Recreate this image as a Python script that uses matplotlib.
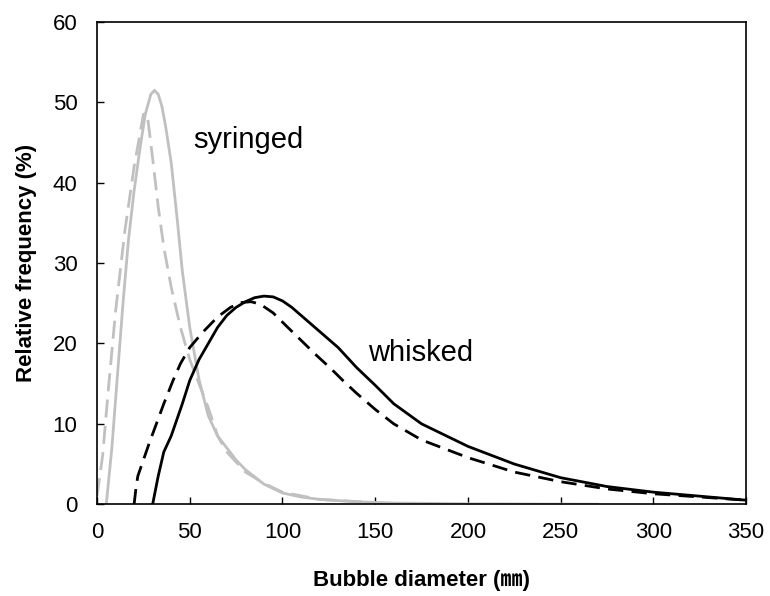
import matplotlib.pyplot as plt

plt.rcParams['font.family'] = ['Liberation Sans', 'Noto Sans CJK JP', 'DejaVu Sans']

# syringed, measured (solid grey)
syr_x = [5, 8, 11, 14, 17, 20, 23, 26, 29, 31, 33, 35, 37, 40, 43, 46, 50, 55, 60, 65,
         70, 75, 80, 90, 100, 110, 120, 140, 160, 200, 270]
syr_y = [0, 7, 16, 25, 33, 39, 44, 48.5, 51, 51.5, 51, 49.5, 47, 42.5, 36, 29, 22, 15.5, 11, 8.5,
         7, 5.5, 4.3, 2.5, 1.4, 0.9, 0.6, 0.3, 0.15, 0.05, 0]

# syringed, fit (dashed grey)
syr_fit_x = [0, 3, 6, 10, 15, 20, 25, 27, 30, 33, 36, 40, 45, 50, 55, 60, 65, 70, 80, 90, 100, 120, 150]
syr_fit_y = [1, 6, 14, 24, 34, 42, 48.5, 48.7, 43, 37, 32, 27, 22, 18, 15, 12, 8.5, 6.5, 4, 2.6, 1.5, 0.6, 0.2]

# whisked, measured (solid black)
wh_x = [30, 33, 36, 40, 43, 46, 50, 55, 60, 65, 70, 75, 80, 85, 90, 95, 100, 105, 110, 115,
        120, 130, 140, 150, 160, 175, 200, 225, 250, 275, 300, 325, 350]
wh_y = [0, 3.5, 6.5, 8.5, 10.5, 12.5, 15.4, 18, 20, 22, 23.5, 24.5, 25.2, 25.7, 25.9, 25.8, 25.3, 24.5, 23.5, 22.5,
        21.5, 19.5, 17, 14.8, 12.5, 10, 7.2, 5, 3.3, 2.2, 1.5, 1.0, 0.5]

# whisked, fit (dashed black)
wh_fit_x = [20, 21, 22, 25, 28, 32, 36, 41, 45, 50, 57, 65, 72, 78, 83, 88, 95, 102, 110, 118,
            126, 133, 140, 150, 160, 175, 200, 225, 250, 275, 300, 325, 350]
wh_fit_y = [0, 2, 3.5, 5.5, 7.5, 10, 12.5, 15.4, 17.5, 19.5, 21.4, 23.3, 24.5, 25.1, 25.2, 24.9, 23.8, 22.2, 20.4, 18.6,
            16.9, 15.3, 13.8, 11.8, 10, 8, 5.8, 4, 2.8, 1.9, 1.3, 0.9, 0.5]

fig = plt.figure(figsize=(7.7, 5.96), dpi=100)
ax = fig.add_axes([0.126, 0.154, 0.843, 0.809])

grey = "#c0c0c0"
ax.plot(syr_x, syr_y, color=grey, lw=2.0)
ax.plot(syr_fit_x, syr_fit_y, color=grey, lw=2.0, dashes=(6.5, 3))
ax.plot(wh_x, wh_y, color="black", lw=2.0)
ax.plot(wh_fit_x, wh_fit_y, color="black", lw=2.0, dashes=(5.5, 3))

ax.text(52, 44.3, "syringed", fontsize=21, va="baseline", ha="left")
ax.text(146, 17.8, "whisked", fontsize=21, va="baseline", ha="left")

ax.set_xlim(0, 350)
ax.set_ylim(0, 60)
ax.set_xticks(range(0, 351, 50))
ax.set_yticks(range(0, 61, 10))
ax.tick_params(direction="in", length=5, width=1, labelsize=16)
ax.tick_params(axis="x", pad=13)
ax.tick_params(axis="y", pad=14)
for s in ax.spines.values():
    s.set_linewidth(1.2)

ax.set_xlabel("Bubble diameter (\u339c)", fontsize=16, fontweight="bold", labelpad=19)
ax.set_ylabel("Relative frequency (%)", fontsize=16, fontweight="bold", labelpad=11)

fig.savefig("out.png", dpi=100)
